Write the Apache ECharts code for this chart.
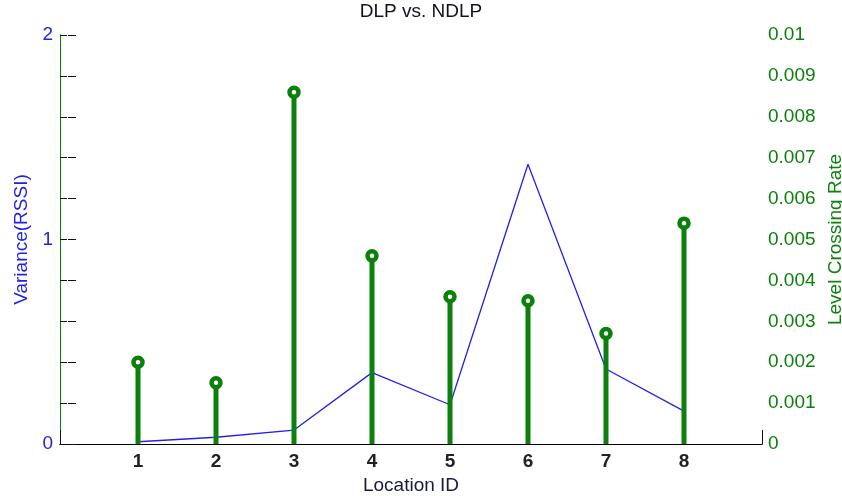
<!DOCTYPE html>
<html>
<head>
<meta charset="utf-8">
<script src="https://cdn.jsdelivr.net/npm/echarts@6/dist/echarts.min.js"></script>
<style>
  html, body { margin: 0; padding: 0; background: #fff; }
  #chart { width: 842px; height: 496px; }
</style>
</head>
<body>
<div id="chart"></div>
<script>
// Location IDs along the x axis
const locations = [1, 2, 3, 4, 5, 6, 7, 8];
// RSSI variance per location (left axis)
const variance = [0.011, 0.033, 0.068, 0.349, 0.192, 1.368, 0.367, 0.161];
// Level crossing rate per location (right axis, drawn as stems)
const crossingRate = [0.0020, 0.0015, 0.0086, 0.0046, 0.0036, 0.0035, 0.0027, 0.0054];

const GREEN = '#0b800b';
const BLUE = '#2222e6';
const FONT = 'Liberation Sans, Arial, sans-serif';

const chart = echarts.init(document.getElementById('chart'), null, { renderer: 'canvas' });

const varianceData = locations.map((x, i) => [x, variance[i]]);
const rateData = locations.map((x, i) => [x, crossingRate[i]]);

// A tick-only axis shifted into the plot so its outward ticks end on the frame
function tickAxis(base, len) {
  return Object.assign({}, base, {
    offset: -len,
    name: '',
    axisLine: { show: false },
    axisLabel: { show: false },
    axisTick: { show: true, length: len, lineStyle: { color: '#111', width: 1 } },
    splitLine: { show: false }
  });
}

const xRange = { type: 'value', min: 0, max: 9, interval: 1 };
const yLeftRange = { type: 'value', min: 0, max: 2, interval: 0.2 };
const yRightRange = { type: 'value', min: 0, max: 0.01, interval: 0.001 };

chart.setOption({
  animation: false,
  backgroundColor: '#ffffff',
  title: {
    text: 'DLP vs. NDLP',
    left: 'center',
    top: -3,
    textStyle: { fontFamily: FONT, fontSize: 19, fontWeight: 'normal', color: '#111122' }
  },
  grid: { left: 60, right: 80, top: 35, bottom: 52, outerBoundsMode: 'none', containLabel: false },
  xAxis: [
    Object.assign({}, xRange, {
      position: 'bottom',
      name: 'Location ID',
      nameLocation: 'middle',
      nameGap: 27,
      nameTextStyle: { fontFamily: FONT, fontSize: 19, color: '#1a1a3a' },
      axisLine: { show: true, lineStyle: { color: '#000', width: 1 } },
      axisTick: { show: false },
      axisLabel: {
        fontFamily: FONT, fontSize: 19, fontWeight: 'bold', color: '#222', margin: 8,
        formatter: v => (v >= 1 && v <= 8 ? String(v) : '')
      },
      splitLine: { show: false }
    }),
    Object.assign({}, xRange, {
      position: 'top',
      axisLine: { show: true, lineStyle: { color: '#000', width: 1 } },
      axisTick: { show: false },
      axisLabel: { show: false },
      splitLine: { show: false }
    }),
    tickAxis(Object.assign({}, xRange, { position: 'bottom' }), 7),
    tickAxis(Object.assign({}, xRange, { position: 'top' }), 7)
  ],
  yAxis: [
    Object.assign({}, yLeftRange, {
      position: 'left',
      name: 'Variance(RSSI)',
      nameLocation: 'middle',
      nameGap: 23,
      nameRotate: 90,
      nameTextStyle: { fontFamily: FONT, fontSize: 19, color: BLUE },
      axisLine: { show: true, lineStyle: { color: GREEN, width: 1 } },
      axisTick: { show: false },
      axisLabel: {
        fontFamily: FONT, fontSize: 19, color: BLUE, margin: 7,
        formatter: v => (Math.abs(v - Math.round(v)) < 1e-9 ? String(Math.round(v)) : '')
      },
      splitLine: { show: false }
    }),
    Object.assign({}, yRightRange, {
      position: 'right',
      name: 'Level Crossing Rate',
      nameLocation: 'middle',
      nameGap: 52,
      nameRotate: 90,
      nameTextStyle: { fontFamily: FONT, fontSize: 19, color: GREEN },
      axisLine: { show: true, lineStyle: { color: GREEN, width: 1 } },
      axisTick: { show: false },
      axisLabel: {
        fontFamily: FONT, fontSize: 19, color: GREEN, margin: 6,
        formatter: v => String(parseFloat(v.toFixed(3)))
      },
      splitLine: { show: false }
    }),
    tickAxis(Object.assign({}, yLeftRange, { position: 'left' }), 7),
    tickAxis(Object.assign({}, yRightRange, { position: 'right' }), 8)
  ],
  series: [
    {
      name: 'Variance',
      type: 'line',
      xAxisIndex: 0,
      yAxisIndex: 0,
      data: varianceData,
      symbol: 'none',
      lineStyle: { color: BLUE, width: 1.3 },
      z: 2
    },
    {
      name: 'Level Crossing Rate',
      type: 'bar',
      xAxisIndex: 0,
      yAxisIndex: 1,
      data: rateData,
      barWidth: 5,
      itemStyle: { color: GREEN },
      z: 3
    },
    {
      name: 'Rate marker',
      type: 'scatter',
      xAxisIndex: 0,
      yAxisIndex: 1,
      data: rateData,
      symbol: 'circle',
      symbolSize: 9,
      itemStyle: { color: '#ffffff', borderColor: GREEN, borderWidth: 4.5, opacity: 1 },
      z: 4
    }
  ]
});
</script>
</body>
</html>
